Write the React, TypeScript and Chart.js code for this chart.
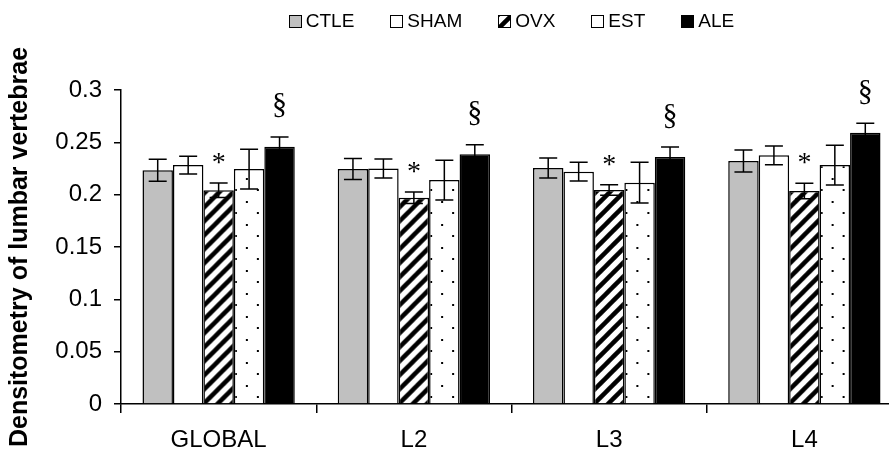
import React, { useEffect, useRef } from 'react';
import { Chart, registerables } from 'chart.js';

Chart.register(...registerables);

const categories = ['GLOBAL', 'L2', 'L3', 'L4'];
const seriesNames = ['CTLE', 'SHAM', 'OVX', 'EST', 'ALE'];

const ctleValues = [0.2233, 0.2245, 0.2255, 0.2322];
const ctleErrors = [0.0105, 0.01, 0.0095, 0.0105];
const shamValues = [0.2283, 0.225, 0.222, 0.2376];
const shamErrors = [0.0085, 0.009, 0.009, 0.009];
const ovxValues = [0.2042, 0.197, 0.2045, 0.2035];
const ovxErrors = [0.007, 0.0055, 0.005, 0.0074];
const estValues = [0.2245, 0.214, 0.2115, 0.2283];
const estErrors = [0.019, 0.019, 0.0195, 0.019];
const aleValues = [0.2458, 0.2385, 0.236, 0.2592];
const aleErrors = [0.0093, 0.0092, 0.0095, 0.009];

const ovxMarks = ['*', '*', '*', '*'];
const aleMarks = ['§', '§', '§', '§'];

const yTicks = [0, 0.05, 0.1, 0.15, 0.2, 0.25, 0.3];
const yTickLabels = ['0', '0.05', '0.1', '0.15', '0.2', '0.25', '0.3'];
const yTitle = 'Densitometry of lumbar vertebrae';

const seriesValues = [ctleValues, shamValues, ovxValues, estValues, aleValues];
const seriesErrors = [ctleErrors, shamErrors, ovxErrors, estErrors, aleErrors];
const seriesFills = ['#c0c0c0', '#ffffff', 'hatch', 'dots', '#000000'];

const SANS = '"Liberation Sans", Arial, Helvetica, sans-serif';
const SERIF = '"Liberation Serif", "Times New Roman", serif';
const CAT_PCT = 0.78;

function makeHatchTile(): HTMLCanvasElement {
  const s = 14;
  const c = document.createElement('canvas');
  c.width = s;
  c.height = s;
  const g = c.getContext('2d')!;
  g.fillStyle = '#fff';
  g.fillRect(0, 0, s, s);
  g.strokeStyle = '#000';
  g.lineWidth = 4.5;
  g.lineCap = 'square';
  g.beginPath();
  g.moveTo(0, s);
  g.lineTo(s, 0);
  g.moveTo(-2, 2);
  g.lineTo(2, -2);
  g.moveTo(s - 2, s + 2);
  g.lineTo(s + 2, s - 2);
  g.stroke();
  return c;
}

function makeDotTile(): HTMLCanvasElement {
  const w = 22;
  const h = 23;
  const c = document.createElement('canvas');
  c.width = w;
  c.height = h;
  const g = c.getContext('2d')!;
  g.fillStyle = '#fff';
  g.fillRect(0, 0, w, h);
  g.fillStyle = '#000';
  g.fillRect(12, 4, 2, 2);
  g.fillRect(1, 15, 2, 2);
  return c;
}

function patternAt(ctx: CanvasRenderingContext2D, tile: HTMLCanvasElement, x: number, y: number) {
  const p = ctx.createPattern(tile, 'repeat')!;
  p.setTransform(new DOMMatrix([1, 0, 0, 1, x, y]));
  return p;
}

export default function App() {
  const canvasRef = useRef<HTMLCanvasElement>(null);

  useEffect(() => {
    const canvas = canvasRef.current;
    if (!canvas) return;
    const hatchTile = makeHatchTile();
    const dotTile = makeDotTile();
    const tiles: Record<string, HTMLCanvasElement> = { hatch: hatchTile, dots: dotTile };

    const fillFor = (i: number) => {
      const f = seriesFills[i];
      if (!tiles[f]) return f;
      return (c: any) => {
        const chart = c.chart;
        const xs = chart.scales && chart.scales.x;
        if (c.type !== 'data' || !xs || !chart.chartArea) {
          return patternAt(chart.ctx, tiles[f], 0, 0);
        }
        const center = xs.getPixelForValue(c.dataIndex);
        const catW = (xs.right - xs.left) / categories.length;
        const barW = (catW * CAT_PCT) / seriesNames.length;
        const left = center - (seriesNames.length / 2) * barW + c.datasetIndex * barW;
        return patternAt(chart.ctx, tiles[f], left, chart.chartArea.bottom);
      };
    };

    const errorBarPlugin = {
      id: 'errorBars',
      afterDatasetsDraw(chart: any) {
        const { ctx } = chart;
        const y = chart.scales.y;
        ctx.save();
        ctx.strokeStyle = '#000';
        ctx.lineWidth = 1.5;
        seriesValues.forEach((vals, di) => {
          const meta = chart.getDatasetMeta(di);
          meta.data.forEach((bar: any, i: number) => {
            const v = vals[i];
            const e = seriesErrors[di][i];
            const yt = y.getPixelForValue(v + e);
            const yb = y.getPixelForValue(v - e);
            const x = bar.x;
            ctx.beginPath();
            ctx.moveTo(x, yt);
            ctx.lineTo(x, yb);
            ctx.moveTo(x - 9, yt);
            ctx.lineTo(x + 9, yt);
            ctx.moveTo(x - 9, yb);
            ctx.lineTo(x + 9, yb);
            ctx.stroke();
          });
        });
        ctx.restore();
      },
    };

    const marks = [
      { ds: 2, labels: ovxMarks, size: 28, offset: 12 },
      { ds: 4, labels: aleMarks, size: 30, offset: 23.5 },
    ];

    const marksPlugin = {
      id: 'sigMarks',
      afterDatasetsDraw(chart: any) {
        const { ctx } = chart;
        const y = chart.scales.y;
        ctx.save();
        ctx.fillStyle = '#000';
        ctx.textAlign = 'center';
        ctx.textBaseline = 'alphabetic';
        marks.forEach((m) => {
          const meta = chart.getDatasetMeta(m.ds);
          ctx.font = `${m.size}px ${SERIF}`;
          m.labels.forEach((lab, i) => {
            const bar = meta.data[i];
            if (!bar || !lab) return;
            const top = y.getPixelForValue(seriesValues[m.ds][i] + seriesErrors[m.ds][i]);
            ctx.fillText(lab, bar.x, top - m.offset);
          });
        });
        ctx.restore();
      },
    };

    const legendPlugin = {
      id: 'topLegend',
      afterDraw(chart: any) {
        const { ctx, chartArea } = chart;
        ctx.save();
        ctx.font = `19px ${SANS}`;
        ctx.textBaseline = 'middle';
        ctx.textAlign = 'left';
        const box = 13;
        const gapText = 4;
        const gapItem = 36;
        const cy = 21;
        const widths = seriesNames.map((n) => ctx.measureText(n).width);
        const total = widths.reduce((a, w) => a + box + gapText + w, 0) + gapItem * (widths.length - 1);
        let x = (chartArea.left + chartArea.right) / 2 - total / 2;
        seriesNames.forEach((name, i) => {
          const top = Math.round(cy - box / 2);
          const bx = Math.round(x);
          const f = seriesFills[i];
          ctx.fillStyle = tiles[f] ? patternAt(ctx, tiles[f], bx, top) : f;
          ctx.fillRect(bx, top, box, box);
          ctx.lineWidth = 1;
          ctx.strokeStyle = '#000';
          ctx.strokeRect(bx + 0.5, top + 0.5, box - 1, box - 1);
          ctx.fillStyle = '#000';
          ctx.fillText(name, x + box + gapText, cy + 1);
          x += box + gapText + widths[i] + gapItem;
        });
        ctx.restore();
      },
    };

    const chart = new Chart(canvas, {
      type: 'bar',
      data: {
        labels: categories,
        datasets: seriesNames.map((name, i) => ({
          label: name,
          data: seriesValues[i],
          backgroundColor: fillFor(i) as any,
          borderColor: '#000',
          borderWidth: 1.5,
          categoryPercentage: CAT_PCT,
          barPercentage: 1,
        })),
      },
      options: {
        responsive: false,
        animation: false,
        devicePixelRatio: 1,
        layout: { padding: { top: 90, left: 0, right: 0, bottom: 0 } },
        plugins: {
          legend: { display: false },
          tooltip: { enabled: false },
        },
        scales: {
          x: {
            offset: true,
            grid: {
              display: true,
              offset: true,
              drawOnChartArea: false,
              drawTicks: true,
              tickLength: 9,
              color: '#000',
              lineWidth: 1.5,
            },
            border: { display: true, color: '#000', width: 1.5 },
            ticks: {
              color: '#000',
              font: { family: SANS, size: 24 },
              padding: 13,
              maxRotation: 0,
              autoSkip: false,
            },
            afterFit: (s: any) => {
              s.height = 55;
            },
          },
          y: {
            min: 0,
            max: 0.3,
            grid: {
              display: true,
              drawOnChartArea: false,
              drawTicks: true,
              tickLength: 7,
              color: '#000',
              lineWidth: 1.5,
            },
            border: { display: true, color: '#000', width: 1.5 },
            afterBuildTicks: (s: any) => {
              s.ticks = yTicks.map((v) => ({ value: v }));
            },
            ticks: {
              color: '#000',
              font: { family: SANS, size: 24 },
              padding: 12,
              callback: (_v: any, i: number) => yTickLabels[i],
            },
            title: {
              display: true,
              text: yTitle,
              color: '#000',
              font: { family: SANS, size: 25, weight: 'bold' },
              padding: { top: 5, bottom: 0 },
            },
            afterFit: (s: any) => {
              s.width = 121;
            },
          },
        },
      },
      plugins: [errorBarPlugin, marksPlugin, legendPlugin],
    } as any);

    return () => chart.destroy();
  }, []);

  return (
    <div
      style={{
        position: 'absolute',
        left: 0,
        top: 0,
        width: 889,
        height: 459,
        overflow: 'hidden',
        background: '#fff',
      }}
    >
      <canvas ref={canvasRef} width={902} height={459} style={{ display: 'block' }} />
    </div>
  );
}
